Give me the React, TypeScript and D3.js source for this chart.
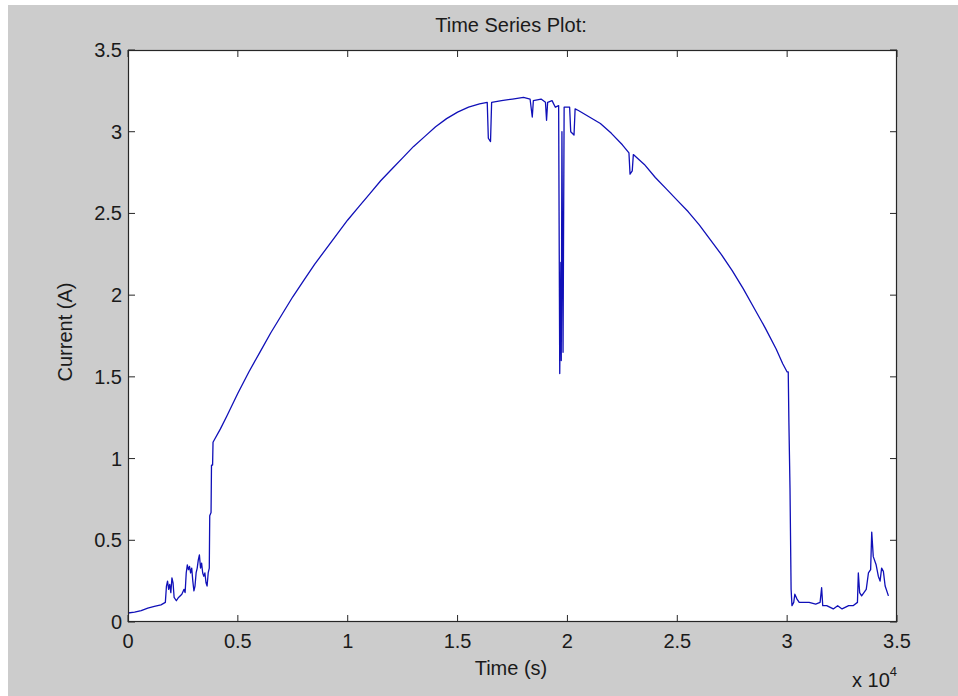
import React from "react";
import * as d3 from "d3";

const timeS: number[] = [
  0, 300, 600, 900, 1200, 1500, 1700, 1750, 1800, 1850, 1900, 1950, 2000, 2050, 2100, 2200, 2300, 2450, 2550, 2600,
  2650, 2700, 2750, 2800, 2850, 2900, 2950, 3000, 3050, 3100, 3150, 3200, 3250, 3300, 3350, 3400, 3450, 3500, 3550, 3600,
  3650, 3700, 3720, 3780, 3800, 3850, 3870, 3950,
  4200, 4500, 5000, 5500, 6000, 6500, 7000, 7500, 8000, 8500, 9000, 9500, 10000, 10500, 11000, 11500, 12000, 12500,
  13000, 13500, 14000, 14500, 15000, 15500, 16000, 16350, 16400, 16500, 16550, 17000, 17500, 18000, 18300, 18400, 18450,
  18800, 19000, 19050, 19100, 19300, 19450, 19600, 19650, 19700, 19720, 19750, 19800, 19850, 19950, 20100, 20150, 20300,
  20350, 20500, 21000, 21500, 22000, 22500, 22800, 22850, 22950, 23000, 23500, 24000, 24500, 25000, 25500, 26000, 26500,
  27000, 27500, 28000, 28500, 29000, 29500, 29800, 30000, 30050, 30080, 30130, 30180, 30220, 30300, 30350, 30450, 30550,
  31000, 31300, 31500, 31570, 31620, 31800, 32100, 32300, 32500, 32800, 33000, 33200, 33240, 33300, 33390, 33600, 33700,
  33800, 33850, 33920, 34050, 34150, 34230, 34300, 34380, 34460, 34610,
];

const currentA: number[] = [
  0.055, 0.06, 0.07, 0.085, 0.095, 0.105, 0.12, 0.22, 0.25, 0.2, 0.23, 0.18, 0.27, 0.24, 0.15, 0.13, 0.15, 0.17, 0.2, 0.18,
  0.3, 0.35, 0.32, 0.34, 0.3, 0.33, 0.25, 0.19, 0.22, 0.3, 0.33, 0.38, 0.41, 0.33, 0.36, 0.3, 0.28, 0.3, 0.24, 0.22,
  0.3, 0.33, 0.65, 0.67, 0.96, 0.96, 1.1, 1.12,
  1.18, 1.26, 1.4, 1.53, 1.65, 1.77, 1.88, 1.99, 2.09, 2.19, 2.28, 2.37, 2.46, 2.54, 2.62, 2.7, 2.77, 2.84,
  2.91, 2.97, 3.03, 3.08, 3.12, 3.15, 3.17, 3.18, 2.96, 2.94, 3.18, 3.19, 3.2, 3.21, 3.2, 3.09, 3.19,
  3.2, 3.18, 3.07, 3.18, 3.19, 3.15, 3.16, 1.52, 2.2, 1.6, 3.0, 1.65, 3.15, 3.15, 3.15, 3.0, 2.98,
  3.14, 3.13, 3.09, 3.05, 2.99, 2.92, 2.87, 2.74, 2.76, 2.86, 2.8, 2.72, 2.65, 2.58, 2.51, 2.43, 2.34,
  2.25, 2.15, 2.04, 1.92, 1.8, 1.67, 1.58, 1.53, 1.53, 1.22, 0.82, 0.2, 0.1, 0.12, 0.17, 0.14, 0.12,
  0.12, 0.11, 0.12, 0.21, 0.1, 0.1, 0.08, 0.1, 0.08, 0.1, 0.1, 0.12, 0.3, 0.18, 0.16, 0.2, 0.3,
  0.32, 0.55, 0.4, 0.35, 0.28, 0.25, 0.33, 0.31, 0.22, 0.16,
];

const xTickValues: number[] = [0, 5000, 10000, 15000, 20000, 25000, 30000, 35000];
const xTickLabels: string[] = ["0", "0.5", "1", "1.5", "2", "2.5", "3", "3.5"];
const yTickValues: number[] = [0, 0.5, 1, 1.5, 2, 2.5, 3, 3.5];
const yTickLabels: string[] = ["0", "0.5", "1", "1.5", "2", "2.5", "3", "3.5"];

const W = 958;
const H = 696;
const left = 128;
const right = 897;
const top = 50;
const bottom = 622;
const font = "'Liberation Sans', Arial, sans-serif";

export default function App() {
  const x = d3.scaleLinear().domain([0, 35000]).range([left, right]);
  const y = d3.scaleLinear().domain([0, 3.5]).range([bottom, top]);
  const pts = timeS.map((t, i) => [t, currentA[i]] as [number, number]);
  const line = d3
    .line<[number, number]>()
    .x((d) => x(d[0]))
    .y((d) => y(d[1]));
  const tick = 7;
  const axisColor = "#262626";
  return (
    <svg
      width={W}
      height={H}
      style={{ position: "absolute", left: 0, top: 0, display: "block" }}
      fontFamily={font}
    >
      <rect x={0} y={0} width={W} height={H} fill="#ffffff" />
      <rect x={8} y={5} width={W - 8} height={H - 5} fill="#cccccc" />
      <rect x={left} y={top} width={right - left} height={bottom - top} fill="#ffffff" />
      <path d={line(pts) || ""} fill="none" stroke="#1010b8" strokeWidth={1.3} strokeLinejoin="round" />
      <rect
        x={left + 0.5}
        y={top + 0.5}
        width={right - left - 1}
        height={bottom - top - 1}
        fill="none"
        stroke={axisColor}
        strokeWidth={1.2}
      />
      {xTickValues.map((v, i) => (
        <g key={"xt" + i}>
          <line x1={x(v)} x2={x(v)} y1={bottom} y2={bottom - tick} stroke={axisColor} />
          <line x1={x(v)} x2={x(v)} y1={top} y2={top + tick} stroke={axisColor} />
          <text x={x(v)} y={648} textAnchor="middle" fontSize={20} fill="#1a1a1a">
            {xTickLabels[i]}
          </text>
        </g>
      ))}
      {yTickValues.map((v, i) => (
        <g key={"yt" + i}>
          <line x1={left} x2={left + tick} y1={y(v)} y2={y(v)} stroke={axisColor} />
          <line x1={right} x2={right - tick} y1={y(v)} y2={y(v)} stroke={axisColor} />
          <text x={122} y={y(v) + 7} textAnchor="end" fontSize={20} fill="#1a1a1a">
            {yTickLabels[i]}
          </text>
        </g>
      ))}
      <text x={511} y={32} textAnchor="middle" fontSize={20} fill="#1a1a1a">
        Time Series Plot:
      </text>
      <text x={511} y={675} textAnchor="middle" fontSize={20} fill="#1a1a1a">
        Time (s)
      </text>
      <text
        transform="translate(72,332) rotate(-90)"
        textAnchor="middle"
        fontSize={20}
        fill="#1a1a1a"
      >
        Current (A)
      </text>
      <text x={897} y={687} textAnchor="end" fontSize={20} fill="#1a1a1a">
        x 10
        <tspan dy={-11} fontSize={13}>4</tspan>
      </text>
    </svg>
  );
}
